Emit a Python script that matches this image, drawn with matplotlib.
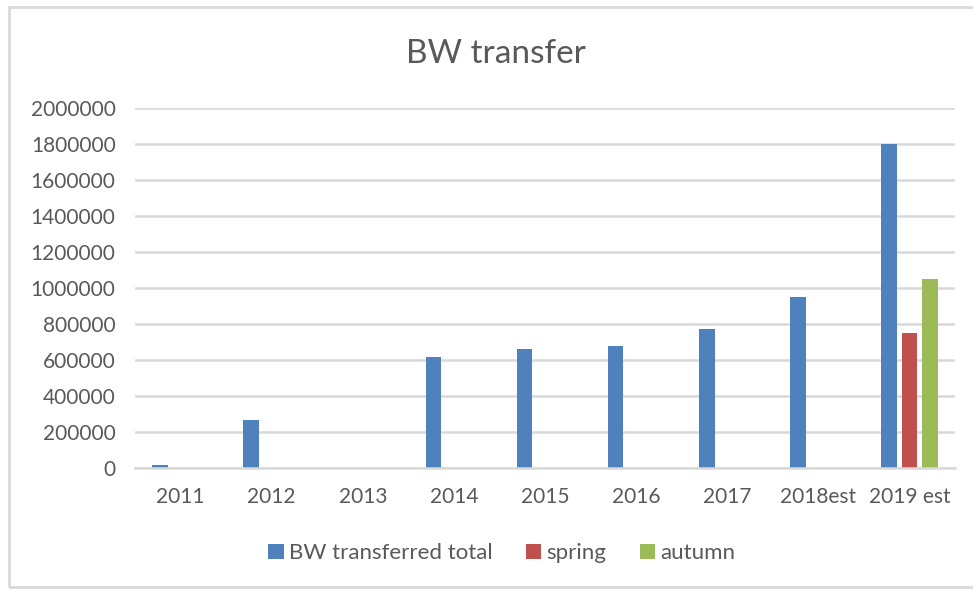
import numpy as np
import matplotlib
matplotlib.use("Agg")
import matplotlib.pyplot as plt
from matplotlib.patches import Rectangle

plt.rcParams['font.family'] = ['Lato', 'DejaVu Sans']

categories = ['2011', '2012', '2013', '2014', '2015', '2016', '2017', '2018est', '2019 est']
total = [15000, 267000, 0, 615000, 660000, 680000, 770000, 950000, 1800000]
spring = [0, 0, 0, 0, 0, 0, 0, 0, 750000]
autumn = [0, 0, 0, 0, 0, 0, 0, 0, 1050000]
yticks = list(range(0, 2000001, 200000))

text_col = '#595959'
grid_col = '#D9D9D9'

fig = plt.figure(figsize=(9.73, 5.89), dpi=100)
ax = fig.add_axes([135 / 973, 1 - 468 / 589, 820 / 973, 360 / 589])

# chart frame like the spreadsheet border
fig.patches.append(Rectangle((9 / 973, 2 / 589), 1.0, 580 / 589, transform=fig.transFigure,
                             fill=False, edgecolor=grid_col, linewidth=2))

x = np.arange(len(categories))
slot = 0.225
w = 0.172
ax.bar(x - slot, total, w, color='#4F81BD', label='BW transferred total', zorder=3)
ax.bar(x, spring, w, color='#C0504D', label='spring', zorder=3)
ax.bar(x + slot, autumn, w, color='#9BBB59', label='autumn', zorder=3)

ax.set_xlim(-0.5, len(categories) - 0.5)
ax.set_ylim(0, 2000000)
ax.set_yticks(yticks)
ax.set_yticklabels([str(v) for v in yticks])
ax.set_xticks(x)
ax.set_xticklabels(categories)
ax.tick_params(axis='both', length=0, labelsize=15, colors=text_col)
ax.tick_params(axis='y', pad=14)
ax.tick_params(axis='x', pad=14)

ax.grid(axis='y', color=grid_col, linewidth=1.8, zorder=0)
for s in ['top', 'right', 'left']:
    ax.spines[s].set_visible(False)
ax.spines['bottom'].set_color(grid_col)
ax.spines['bottom'].set_linewidth(1.8)
ax.spines['bottom'].set_zorder(4)

fig.text(496 / 973, 1 - 54 / 589, 'BW transfer', ha='center', va='center',
         fontsize=24, color=text_col)

leg = fig.legend(loc='center', bbox_to_anchor=(502 / 973, 1 - 553 / 589), ncol=3,
                 frameon=False, fontsize=16, handlelength=0.68, handleheight=0.68,
                 handletextpad=0.25, columnspacing=1.5)
for t in leg.get_texts():
    t.set_color(text_col)

fig.savefig('out.png', dpi=100)
